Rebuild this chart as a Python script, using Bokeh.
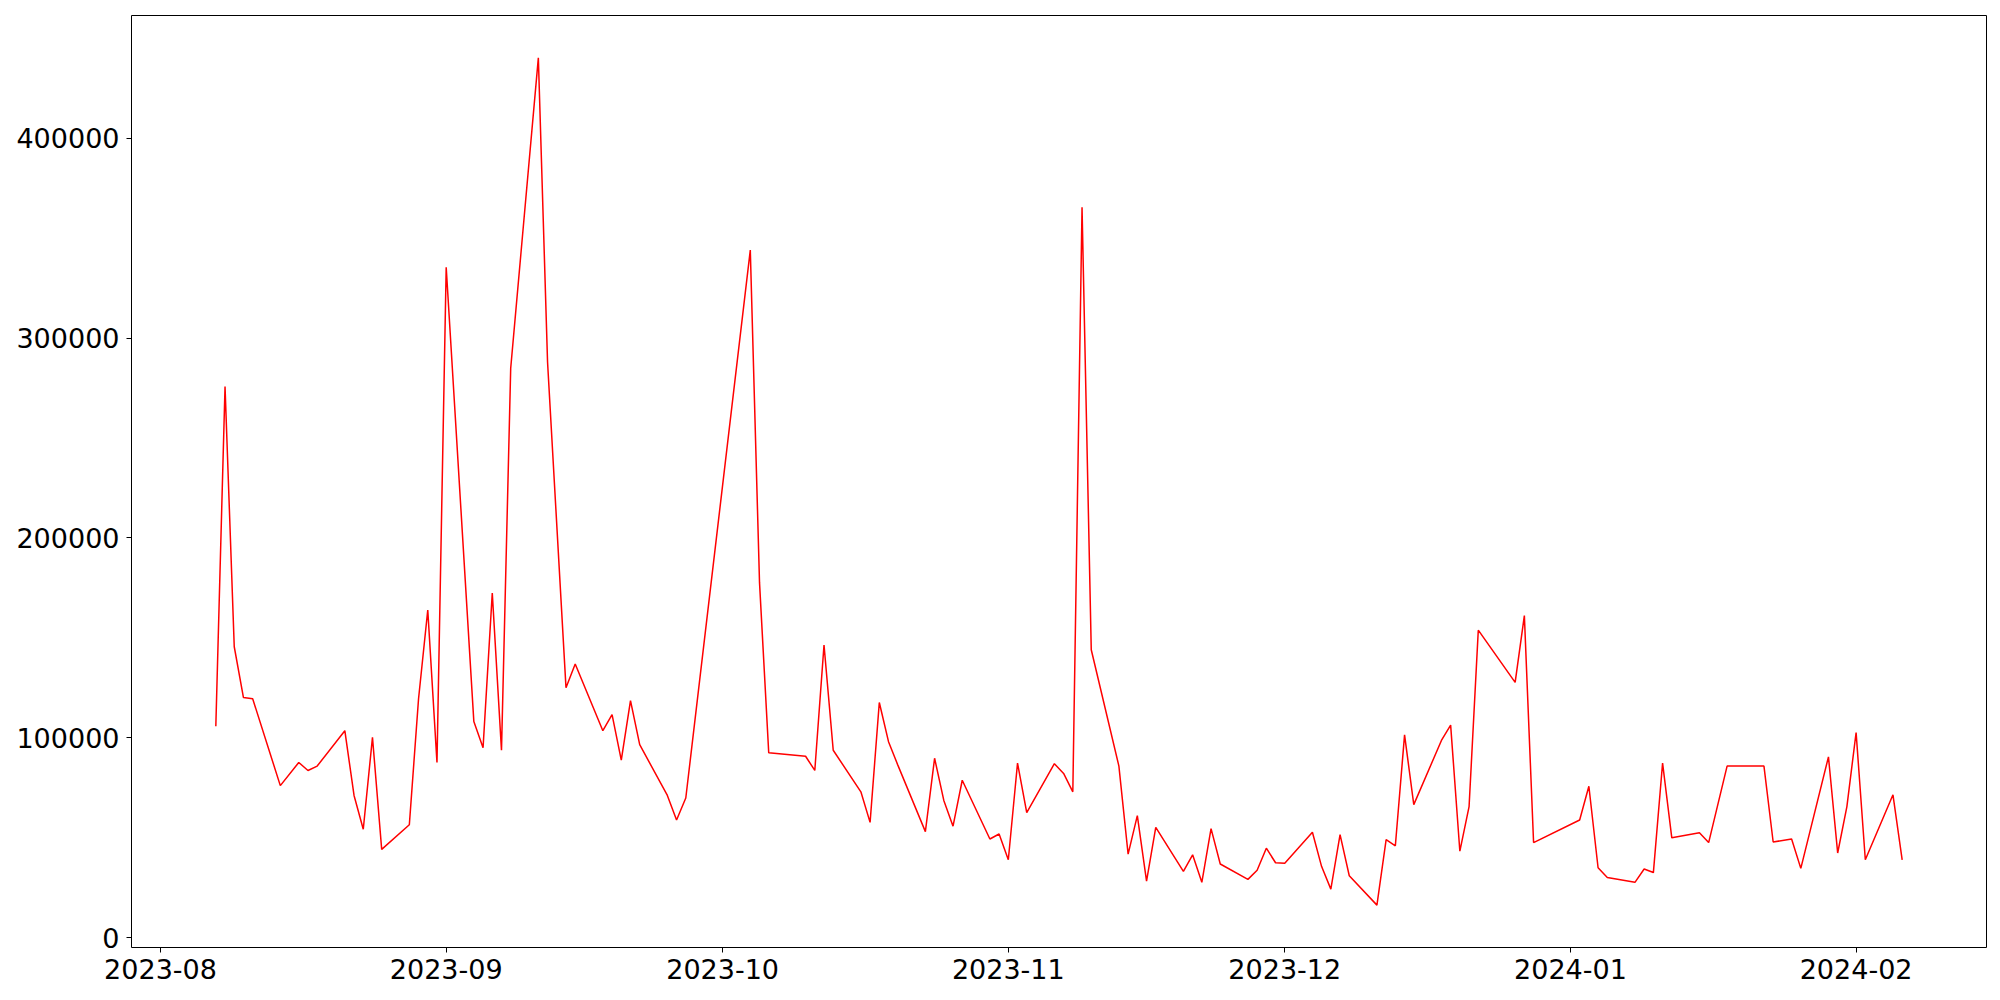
from datetime import datetime
from bokeh.plotting import figure
from bokeh.models import Range1d, FixedTicker, DatetimeTickFormatter, BasicTickFormatter, ColumnDataSource
from bokeh.embed import file_html
from bokeh.resources import INLINE

dates = [
    "2023-08-07", "2023-08-08", "2023-08-09", "2023-08-10", "2023-08-11",
    "2023-08-14", "2023-08-16", "2023-08-17", "2023-08-18",
    "2023-08-21", "2023-08-22", "2023-08-23", "2023-08-24", "2023-08-25",
    "2023-08-28", "2023-08-29", "2023-08-30", "2023-08-31", "2023-09-01",
    "2023-09-04", "2023-09-05", "2023-09-06", "2023-09-07", "2023-09-08",
    "2023-09-11", "2023-09-12", "2023-09-14", "2023-09-15",
    "2023-09-18", "2023-09-19", "2023-09-20", "2023-09-21", "2023-09-22",
    "2023-09-25", "2023-09-26", "2023-09-27",
    "2023-10-04", "2023-10-05", "2023-10-06",
    "2023-10-10", "2023-10-11", "2023-10-12", "2023-10-13",
    "2023-10-16", "2023-10-17", "2023-10-18", "2023-10-19", "2023-10-20",
    "2023-10-23", "2023-10-24", "2023-10-25", "2023-10-26", "2023-10-27",
    "2023-10-30", "2023-10-31", "2023-11-01", "2023-11-02", "2023-11-03",
    "2023-11-06", "2023-11-07", "2023-11-08", "2023-11-09", "2023-11-10",
    "2023-11-13", "2023-11-14", "2023-11-15", "2023-11-16", "2023-11-17",
    "2023-11-20", "2023-11-21", "2023-11-22", "2023-11-23", "2023-11-24",
    "2023-11-27", "2023-11-28", "2023-11-29", "2023-11-30", "2023-12-01",
    "2023-12-04", "2023-12-05", "2023-12-06", "2023-12-07", "2023-12-08",
    "2023-12-11", "2023-12-12", "2023-12-13", "2023-12-14", "2023-12-15",
    "2023-12-18", "2023-12-19", "2023-12-20", "2023-12-21", "2023-12-22",
    "2023-12-26", "2023-12-27", "2023-12-28",
    "2024-01-02", "2024-01-03", "2024-01-04", "2024-01-05",
    "2024-01-08", "2024-01-09", "2024-01-10", "2024-01-11", "2024-01-12",
    "2024-01-15", "2024-01-16", "2024-01-18", "2024-01-19",
    "2024-01-22", "2024-01-23", "2024-01-25", "2024-01-26",
    "2024-01-29", "2024-01-30", "2024-01-31", "2024-02-01", "2024-02-02",
    "2024-02-05", "2024-02-06",
]

values = [
    105700, 275700, 145500, 120100, 119500,
    76000, 87600, 83600, 85800,
    103500, 71100, 54200, 100200, 44100,
    56400, 119500, 163900, 87600, 335400,
    108100, 95000, 172400, 93700, 284900,
    440200, 287900, 125000, 136900,
    103500, 111500, 88800, 118500, 96500,
    71100, 58800, 69800,
    344000, 177700, 92500,
    90700, 83600, 146400, 93700,
    72900, 57600, 117600, 98000, 86400,
    53000, 89700, 68600, 55700, 78700,
    49300, 51800, 38900, 87300, 62500,
    87000, 82100, 72900, 365400, 144000,
    85800, 41700, 61000, 28200, 55100,
    33100, 41400, 27600, 54500, 36800,
    29100, 33700, 44700, 37400, 37100,
    52700, 35500, 24200, 51500, 30900,
    16200, 49000, 45900, 101400, 66500,
    98600, 106300, 43200, 65500, 153800,
    127700, 161100, 47500,
    58800, 75700, 34900, 30000,
    27600, 34300, 32500, 87300, 49900,
    52400, 47500, 85800, 85800,
    85800, 47800, 49300, 34600,
    90400, 42300, 65500, 102600, 38900,
    71400, 38900,
]

month_ticks = ["2023-08-01", "2023-09-01", "2023-10-01", "2023-11-01",
               "2023-12-01", "2024-01-01", "2024-02-01"]
y_ticks = [0, 100000, 200000, 300000, 400000]

x = [datetime.strptime(d, "%Y-%m-%d") for d in dates]
epoch = datetime(1970, 1, 1)
def to_ms(d):
    return (d - epoch).total_seconds() * 1000.0

xmin, xmax = to_ms(x[0]), to_ms(x[-1])
xpad = 0.05 * (xmax - xmin)
ymin, ymax = min(values), max(values)
ypad = 0.05 * (ymax - ymin)

src = ColumnDataSource(dict(x=x, y=values))

p = figure(width=1992, height=992, x_axis_type="datetime",
           output_backend="svg", toolbar_location=None,
           x_range=Range1d(xmin - xpad, xmax + xpad),
           y_range=Range1d(ymin - ypad, ymax + ypad),
           min_border_left=131, min_border_right=6,
           min_border_top=15, min_border_bottom=45)

p.line("x", "y", source=src, line_color="red", line_width=1.5)

p.xgrid.visible = False
p.ygrid.visible = False
p.outline_line_color = "black"
p.outline_line_width = 1
p.outline_line_alpha = 1.0
p.background_fill_color = "white"
p.border_fill_color = "white"

p.xaxis.ticker = FixedTicker(ticks=[to_ms(datetime.strptime(t, "%Y-%m-%d")) for t in month_ticks])
fmt = "%Y-%m"
p.xaxis.formatter = DatetimeTickFormatter(
    milliseconds=fmt, seconds=fmt, minsec=fmt, minutes=fmt, hourmin=fmt,
    hours=fmt, days=fmt, months=fmt, years=fmt)
p.yaxis.ticker = FixedTicker(ticks=y_ticks)
p.yaxis.formatter = BasicTickFormatter(use_scientific=False)

for ax in (p.xaxis, p.yaxis):
    ax.axis_line_color = None
    ax.major_tick_line_color = "black"
    ax.major_tick_line_width = 1
    ax.major_tick_out = 5
    ax.major_tick_in = 0
    ax.minor_tick_line_color = None
    ax.major_label_text_font = "DejaVu Sans"
    ax.major_label_text_font_size = "27px"
    ax.major_label_text_color = "black"
p.xaxis.major_label_standoff = 6
p.yaxis.major_label_standoff = 7

open("out.html", "w").write(file_html(p, INLINE))
